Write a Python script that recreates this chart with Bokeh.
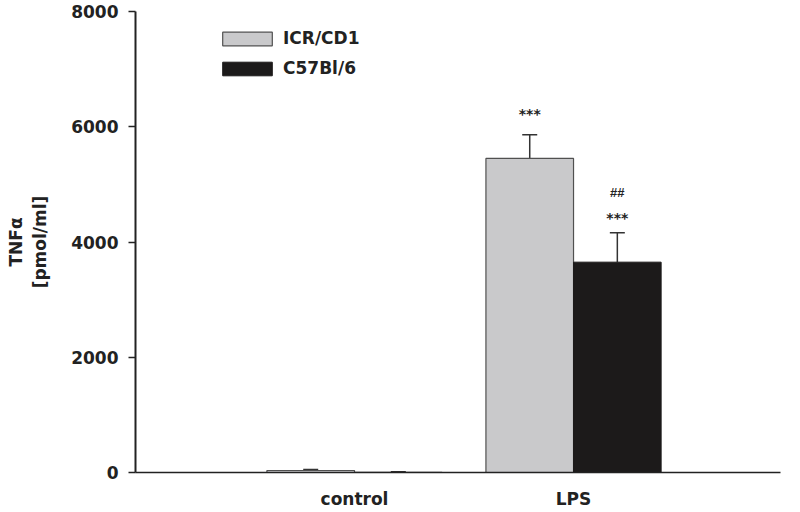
import numpy as np
from bokeh.plotting import figure
from bokeh.models import (ColumnDataSource, Range1d, FixedTicker, Whisker, TeeHead,
                          Legend, LegendItem)
from bokeh.core.properties import value
from bokeh.embed import file_html
from bokeh.resources import INLINE

# ---- data ----
categories = ["control", "LPS"]
cat_pos = [1, 2]
icr_vals = [35, 5450]
icr_err = [17, 410]
c57_vals = [3, 3650]
c57_err = [9, 510]
icr_marks = ["", "***"]
c57_marks = ["", "***"]
c57_marks2 = ["", "##"]
y_ticks = [0, 2000, 4000, 6000, 8000]

FONT = "DejaVu Sans"
bar_w = 0.40
off = 0.20

p = figure(width=800, height=512, output_backend="svg", toolbar_location=None,
           x_range=Range1d(0, 2.945), y_range=Range1d(0, 8000),
           min_border_left=135, min_border_right=20, min_border_top=11, min_border_bottom=40)
p.outline_line_color = None
p.xgrid.visible = False
p.ygrid.visible = False
p.background_fill_color = "white"

xi = [c - off for c in cat_pos]
xc = [c + off for c in cat_pos]
src_i = ColumnDataSource(dict(x=xi, top=icr_vals, up=[v + e for v, e in zip(icr_vals, icr_err)], mark=icr_marks))
src_c = ColumnDataSource(dict(x=xc, top=c57_vals, up=[v + e for v, e in zip(c57_vals, c57_err)], mark=c57_marks, mark2=c57_marks2))

r_i = p.vbar(x="x", top="top", width=bar_w, source=src_i, fill_color="#c9c9cb", line_color="#505050", line_width=1.2)
r_c = p.vbar(x="x", top="top", width=bar_w, source=src_c, fill_color="#1c1a1a", line_color="#1c1a1a", line_width=1)

for s in (src_i, src_c):
    w = Whisker(source=s, base="x", lower="top", upper="up", line_color="#333333", line_width=1.5,
                upper_head=TeeHead(size=15, line_color="#333333", line_width=1.5), lower_head=None)
    p.add_layout(w)

p.text(x="x", y="up", text="mark", source=src_i, text_font=value(FONT), text_font_style="bold",
       text_font_size="14px", text_align="center", text_baseline="middle", y_offset=-21, text_color="#222222")
p.text(x="x", y="up", text="mark", source=src_c, text_font=value(FONT), text_font_style="bold",
       text_font_size="14px", text_align="center", text_baseline="middle", y_offset=-15, text_color="#222222")
p.text(x="x", y="up", text="mark2", source=src_c, text_font=value("Liberation Sans"), text_font_style="bold",
       text_font_size="13px", text_align="center", text_baseline="middle", y_offset=-40, text_color="#222222")

# axes
p.yaxis.ticker = FixedTicker(ticks=y_ticks)
p.yaxis.major_tick_out = 7
p.yaxis.major_tick_in = 0
p.yaxis.minor_tick_line_color = None
p.yaxis.axis_line_width = 2
p.yaxis.axis_line_color = "#222222"
p.yaxis.major_tick_line_color = "#222222"
p.yaxis.major_tick_line_width = 1.5
p.yaxis.major_label_standoff = 10
p.yaxis.major_label_text_font = FONT
p.yaxis.major_label_text_font_style = "bold"
p.yaxis.major_label_text_font_size = "17px"
p.yaxis.major_label_text_color = "#222222"
p.yaxis.axis_label = "TNFα\n[pmol/ml]"
p.yaxis.axis_label_standoff = 18
p.yaxis.axis_label_text_font = FONT
p.yaxis.axis_label_text_font_style = "bold"
p.yaxis.axis_label_text_font_size = "17px"
p.yaxis.axis_label_text_color = "#222222"

p.xaxis.ticker = FixedTicker(ticks=cat_pos)
p.xaxis.major_label_overrides = {c: n for c, n in zip(cat_pos, categories)}
p.xaxis.major_tick_out = 0
p.xaxis.major_tick_in = 0
p.xaxis.minor_tick_line_color = None
p.xaxis.axis_line_width = 1.5
p.xaxis.axis_line_color = "#222222"
p.xaxis.major_label_standoff = 16
p.xaxis.major_label_text_font = FONT
p.xaxis.major_label_text_font_style = "bold"
p.xaxis.major_label_text_font_size = "17px"
p.xaxis.major_label_text_color = "#222222"

legend = Legend(items=[LegendItem(label="ICR/CD1", renderers=[r_i]),
                       LegendItem(label="C57Bl/6", renderers=[r_c])],
                location=(81, 394), padding=0, margin=0, border_line_color=None,
                background_fill_alpha=0, glyph_width=62, glyph_height=17, label_height=17,
                spacing=10, label_standoff=5, label_text_font=FONT, label_text_font_style="bold",
                label_text_font_size="17px", label_text_color="#222222")
p.add_layout(legend)

open("out.html", "w").write(file_html(p, INLINE))
